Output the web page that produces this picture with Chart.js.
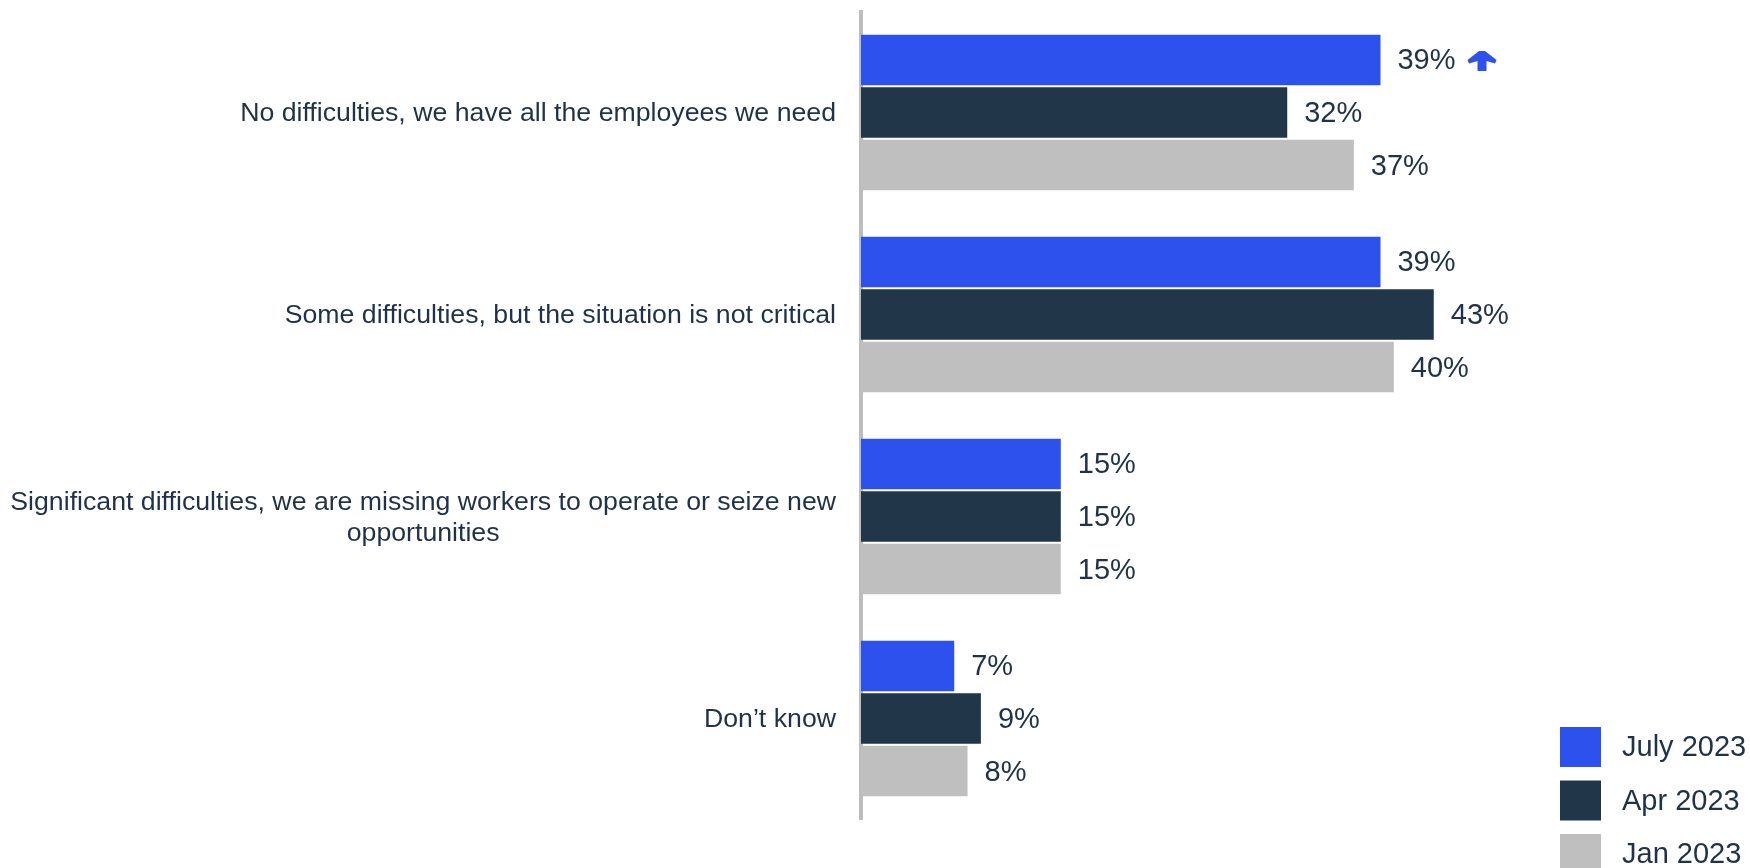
<!DOCTYPE html>
<html>
<head>
<meta charset="utf-8">
<script src="https://cdn.jsdelivr.net/npm/chart.js@4.4.1/dist/chart.umd.min.js"></script>
<style>
    html, body { margin: 0; padding: 0; background: #fff; }
    #wrap { width: 1750px; height: 868px; position: relative; }
</style>
</head>
<body>
<div id="wrap"><canvas id="staffChart"></canvas></div>
<script>
// Answers (multi-line labels are arrays, one entry per line)
const categories = [
    'No difficulties, we have all the employees we need',
    'Some difficulties, but the situation is not critical',
    ['Significant difficulties, we are missing workers to operate or seize new', 'opportunities'],
    'Don\u2019t know'
];

// Survey waves, share of respondents in %
const seriesNames = ['July 2023', 'Apr 2023', 'Jan 2023'];
const july2023 = [39, 39, 15, 7];
const apr2023 = [32, 43, 15, 9];
const jan2023 = [37, 40, 15, 8];

// Bars that get the "up" marker after their value: [dataset, index]
const upMarks = [[0, 0]];

const colors = ['#2d51ed', '#213649', '#bfbfbf'];
const textColor = '#1f3249';
const fontFamily = "'Liberation Sans', Arial, sans-serif";

function upArrow(ctx, left, cy) {
    const cx = left + 14.5;
    const top = cy - 10;
    ctx.save();
    ctx.fillStyle = colors[0];
    ctx.beginPath();
    ctx.moveTo(cx - 3, top);
    ctx.lineTo(cx + 3, top);
    ctx.lineTo(cx + 14.5, top + 9);
    ctx.lineTo(cx + 13, top + 12.5);
    ctx.lineTo(cx + 4.5, top + 10);
    ctx.lineTo(cx + 4.5, top + 20);
    ctx.lineTo(cx - 4.5, top + 20);
    ctx.lineTo(cx - 4.5, top + 10);
    ctx.lineTo(cx - 13, top + 12.5);
    ctx.lineTo(cx - 14.5, top + 9);
    ctx.closePath();
    ctx.fill();
    ctx.restore();
}

// value labels at the end of each bar
const valueLabels = {
    id: 'valueLabels',
    afterDatasetsDraw(chart) {
        const ctx = chart.ctx;
        ctx.save();
        ctx.font = '29px ' + fontFamily;
        ctx.fillStyle = textColor;
        ctx.textAlign = 'left';
        ctx.textBaseline = 'middle';
        chart.data.datasets.forEach((ds, di) => {
            chart.getDatasetMeta(di).data.forEach((bar, i) => {
                const txt = ds.data[i] + '%';
                const x = bar.x + 17;
                ctx.fillText(txt, x, bar.y + 1.5);
                if (upMarks.some(m => m[0] === di && m[1] === i)) {
                    upArrow(ctx, x + ctx.measureText(txt).width + 12, bar.y + 1);
                }
            });
        });
        ctx.restore();
    }
};

// category names, right-aligned block with centred lines
const categoryLabels = {
    id: 'categoryLabels',
    afterDraw(chart) {
        const ctx = chart.ctx;
        const yScale = chart.scales.y;
        const right = chart.chartArea.left - 25;
        const lineH = 31;
        ctx.save();
        ctx.font = '26.7px ' + fontFamily;
        ctx.fillStyle = textColor;
        ctx.textAlign = 'center';
        ctx.textBaseline = 'middle';
        categories.forEach((label, i) => {
            const lines = Array.isArray(label) ? label : [label];
            const w = Math.max(...lines.map(l => ctx.measureText(l).width));
            const cy = yScale.getPixelForTick(i) + 1.5;
            lines.forEach((l, k) => {
                const y = cy + (k - (lines.length - 1) / 2) * lineH;
                ctx.fillText(l, right - w / 2, y);
            });
        });
        ctx.restore();
    }
};

// legend in the lower right corner
const cornerLegend = {
    id: 'cornerLegend',
    afterDraw(chart) {
        const ctx = chart.ctx;
        const left = chart.width - 190;
        const top = 727;
        ctx.save();
        ctx.font = '29px ' + fontFamily;
        ctx.textAlign = 'left';
        ctx.textBaseline = 'middle';
        chart.data.datasets.forEach((ds, i) => {
            const y = top + i * 53.5;
            ctx.fillStyle = ds.backgroundColor;
            ctx.fillRect(left, y, 41, 40);
            ctx.fillStyle = textColor;
            ctx.fillText(ds.label, left + 62, y + 21);
        });
        ctx.restore();
    }
};

const seriesValues = [july2023, apr2023, jan2023];

new Chart(document.getElementById('staffChart'), {
    type: 'bar',
    data: {
        labels: categories,
        datasets: seriesNames.map((name, i) => ({
            label: name,
            data: seriesValues[i],
            backgroundColor: colors[i],
            categoryPercentage: 0.78,
            barPercentage: 0.96
        }))
    },
    options: {
        indexAxis: 'y',
        responsive: true,
        maintainAspectRatio: false,
        animation: false,
        layout: {
            padding: { top: 11.5, bottom: 48.5, left: 0, right: 223 }
        },
        scales: {
            x: {
                display: false,
                min: 0,
                max: 50
            },
            y: {
                grid: { display: false },
                ticks: { display: false },
                border: { display: true, color: '#bdbdbd', width: 4 },
                afterFit(scale) {
                    scale.width = 861;
                }
            }
        },
        plugins: {
            legend: { display: false },
            tooltip: { enabled: false }
        }
    },
    plugins: [valueLabels, categoryLabels, cornerLegend]
});
</script>
</body>
</html>
